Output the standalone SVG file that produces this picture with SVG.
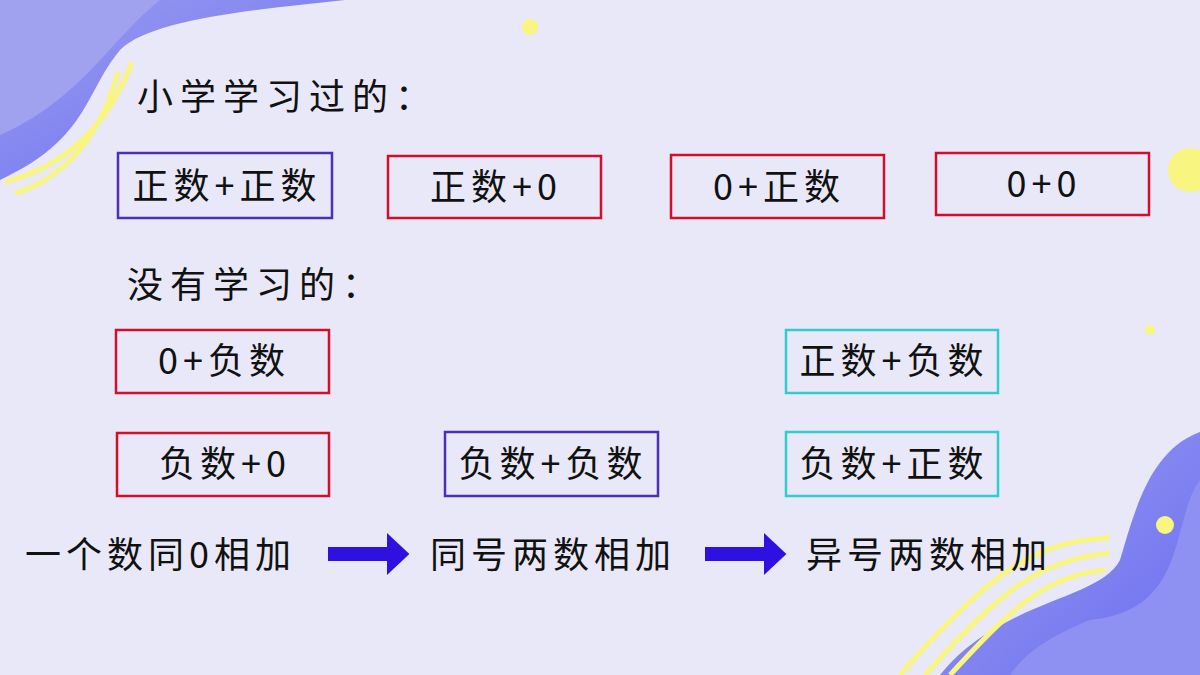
<svg xmlns="http://www.w3.org/2000/svg" width="1200" height="675" viewBox="0 0 1200 675">
<defs>
<style>
.t{font-family:"Noto Sans CJK SC","Noto Sans",sans-serif;fill:#111;font-size:36px;letter-spacing:5px}
.b{fill:none;stroke-width:2.5}
.r{stroke:#d0102a}.p{stroke:#4b2fb5}.c{stroke:#33cccc}
.y{fill:none;stroke:#f8f580;stroke-width:5}
</style>
<linearGradient id="g" x1="0" y1="0" x2="1" y2="1"><stop offset="0" stop-color="#9a9cf0"/><stop offset="1" stop-color="#6b6ef0"/></linearGradient>
<marker id="a" markerWidth="3" markerHeight="3" refX="0.5" refY="1.5" orient="auto" markerUnits="strokeWidth"><path d="M0,0L1.6,1.5L0,3z" fill="#2e10e0"/></marker>
</defs>
<rect width="1200" height="675" fill="#e8e8f8"/>
<g id="deco">
<path d="M0,0H345C250,10 150,20 120,50C95,80 90,110 60,140C40,160 20,170 0,180Z" fill="url(#g)"/>
<path d="M0,0H160C110,40 80,100 0,135Z" fill="#a0a2f0"/>
<path class="y" d="M132,62C110,120 70,165 5,182"/>
<path class="y" d="M118,72C100,140 60,180 15,193"/>
<circle cx="530" cy="27" r="8" fill="#f8f580"/>
<circle cx="1190" cy="170" r="22" fill="#f8f580"/>
<circle cx="1150" cy="330" r="5" fill="#f8f580"/>
<path d="M1200,432C1150,450 1135,510 1120,560C1100,600 1000,600 940,675H1200Z" fill="url(#g)"/>
<path d="M1200,480C1170,520 1190,610 1090,620C1040,640 1020,660 1010,675H1200Z" fill="#8f91f2"/>
<circle cx="1165" cy="525" r="9" fill="#f8f580"/>
<path class="y" d="M1110,538C1040,540 990,570 900,675"/>
<path class="y" d="M1110,553C1040,560 1000,590 925,675"/>
<path class="y" d="M1105,570C1045,575 1010,610 950,675"/>
</g>
<text class="t" x="137" y="110" font-size="38" style="letter-spacing:7px">小学学习过的：</text>
<text class="t" x="127" y="298" font-size="38" style="letter-spacing:7px">没有学习的：</text>
<g id="n1"><rect class="b p" x="118" y="153" width="214" height="65"/><text class="t" x="227" y="199" text-anchor="middle">正数+正数</text></g>
<g id="n2"><rect class="b r" x="388" y="156" width="213" height="62"/><text class="t" x="496" y="200" text-anchor="middle">正数+0</text></g>
<g id="n3"><rect class="b r" x="671" y="155" width="213" height="63"/><text class="t" x="779" y="200" text-anchor="middle">0+正数</text></g>
<g id="n4"><rect class="b r" x="936" y="153" width="213" height="62"/><text class="t" x="1044" y="197" text-anchor="middle">0+0</text></g>
<g id="n5"><rect class="b r" x="116" y="330" width="213" height="63"/><text class="t" x="224" y="374" text-anchor="middle">0+负数</text></g>
<g id="n6"><rect class="b c" x="786" y="330" width="212" height="63"/><text class="t" x="894" y="374" text-anchor="middle">正数+负数</text></g>
<g id="n7"><rect class="b r" x="117" y="433" width="212" height="63"/><text class="t" x="225" y="477" text-anchor="middle">负数+0</text></g>
<g id="n8"><rect class="b p" x="445" y="432" width="213" height="64"/><text class="t" x="553" y="477" text-anchor="middle">负数+负数</text></g>
<g id="n9"><rect class="b c" x="786" y="432" width="212" height="64"/><text class="t" x="894" y="477" text-anchor="middle">负数+正数</text></g>
<g id="s1"><text class="t" x="25" y="568">一个数同0相加</text></g>
<g id="s2"><text class="t" x="430" y="568">同号两数相加</text></g>
<g id="s3"><text class="t" x="806" y="568">异号两数相加</text></g>
<g id="connectors" stroke="#2e10e0" stroke-width="14">
<line x1="328" y1="554" x2="394" y2="554" marker-end="url(#a)"/>
<line x1="705" y1="554" x2="771" y2="554" marker-end="url(#a)"/>
</g>
</svg>
